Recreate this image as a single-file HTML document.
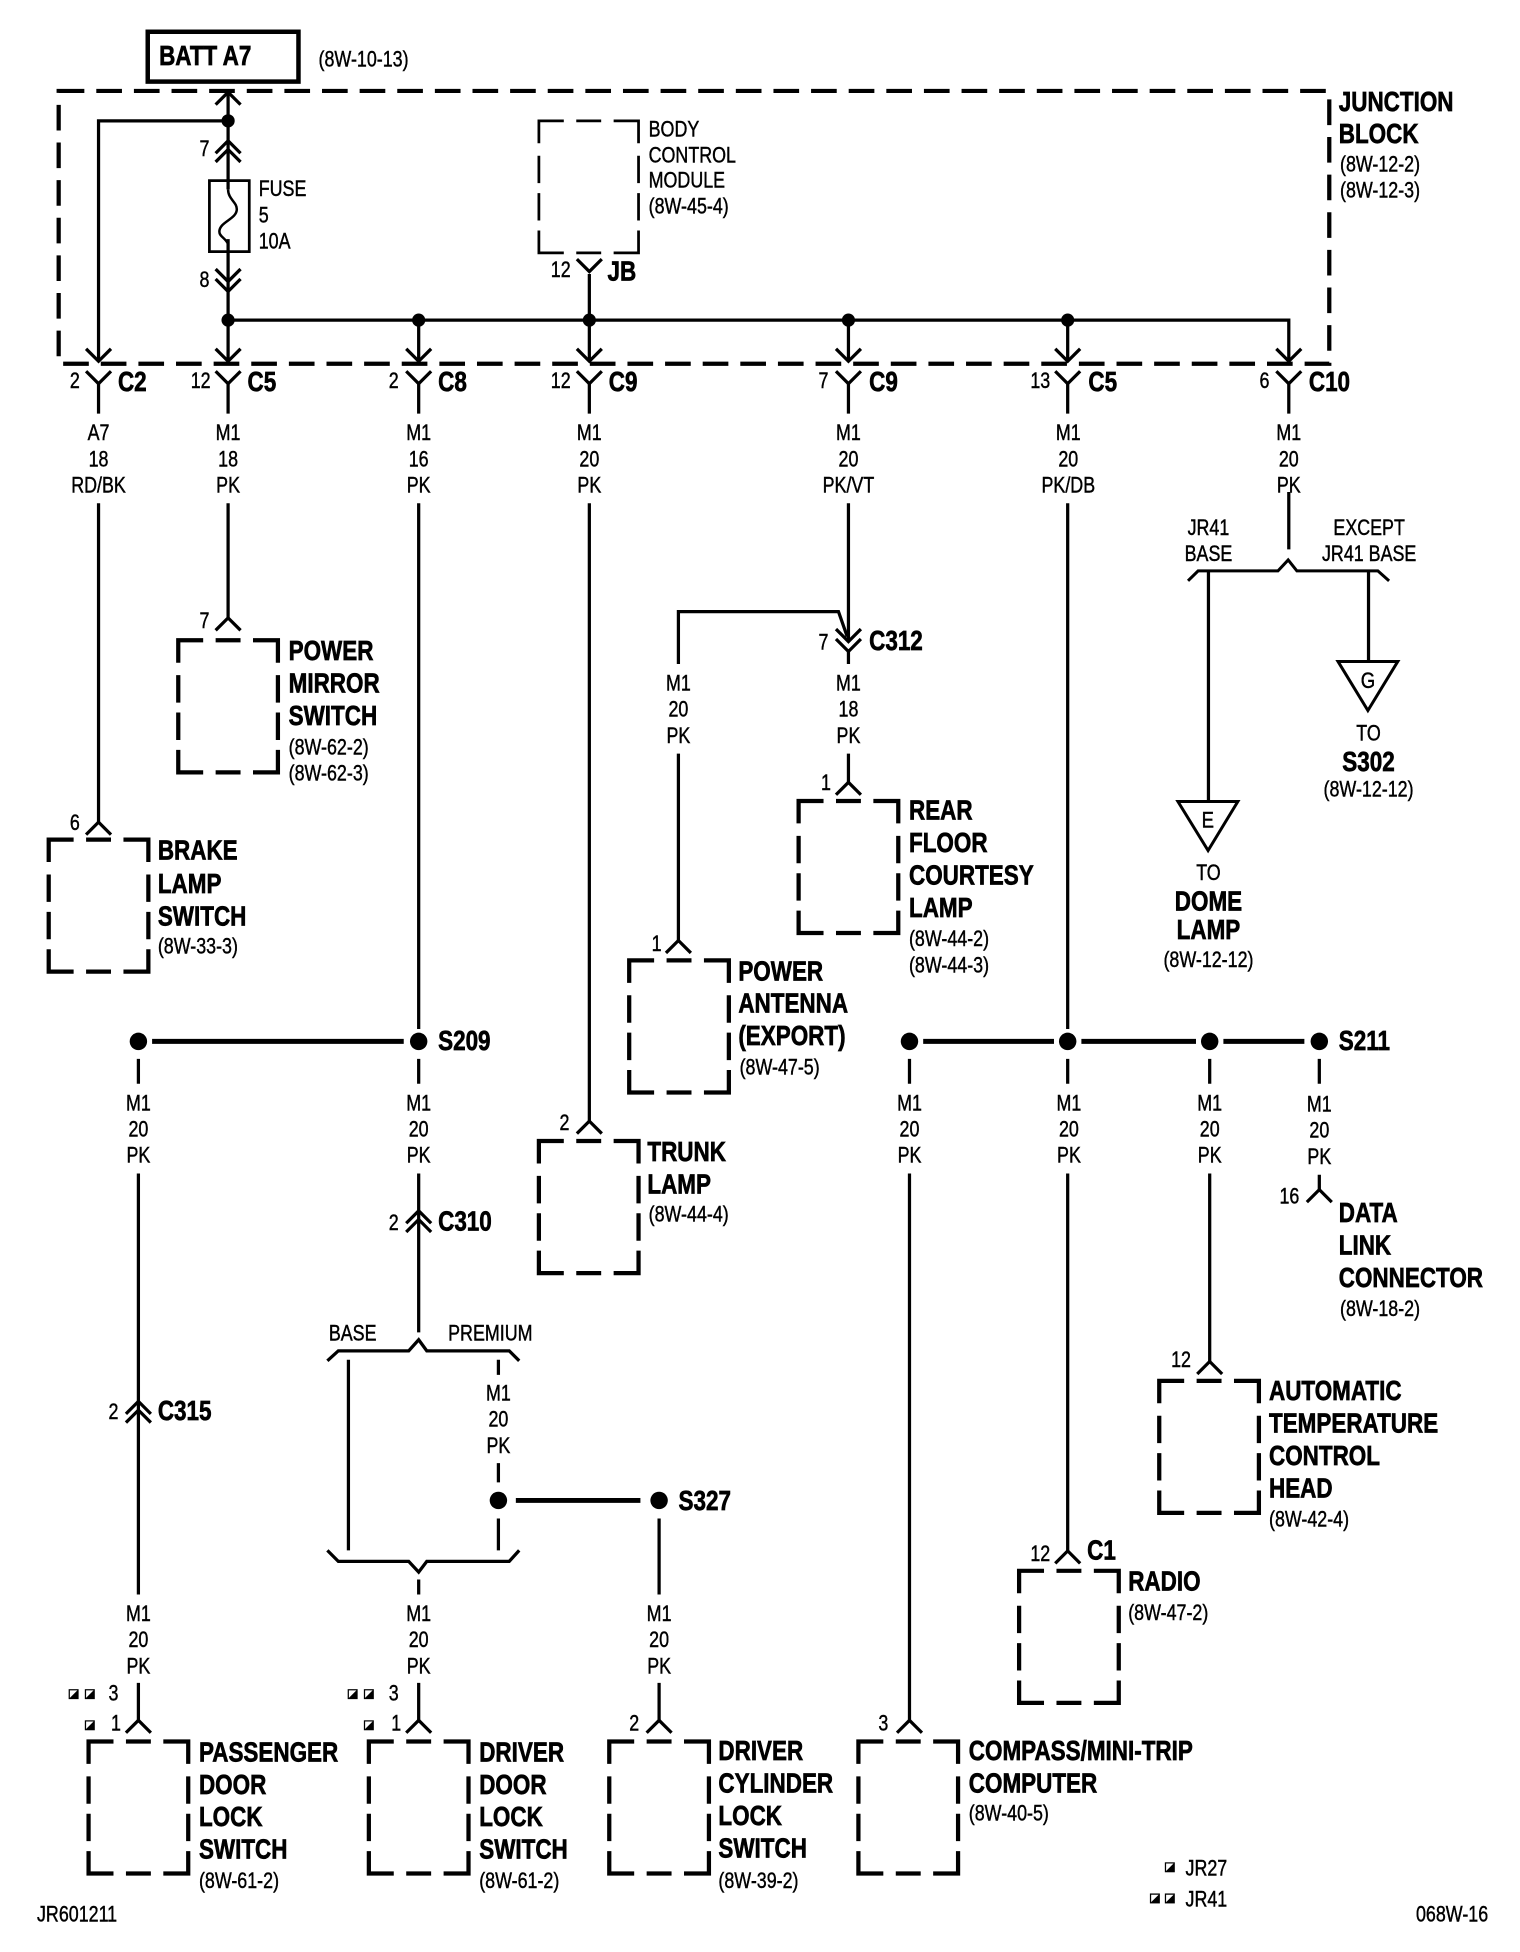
<!DOCTYPE html>
<html>
<head>
<meta charset="utf-8">
<style>
html,body{margin:0;padding:0;background:#fff;}
svg{display:block;width:1520px;height:1952px;}
text{font-family:"Liberation Sans",sans-serif;fill:#000;}
.s text{font-size:17.5px;stroke:#000;stroke-width:.35;}
.b text{font-size:22.4px;font-weight:bold;stroke:#000;stroke-width:.55;}
.m text{text-anchor:middle;}
.e text{text-anchor:end;}
</style>
</head>
<body>
<svg xmlns="http://www.w3.org/2000/svg" viewBox="0 0 1220 1567">
<defs>
<path id="cd" d="M-10,-10 L0,0 L10,-10"/>
<path id="cu" d="M-10,10 L0,0 L10,10"/>
<path id="box" d="M0,18V0H20M30,0H50M60,0H80V18M0,28V50M0,58V80M0,88V106H20M30,106H50M60,106H80V88M80,58V80M80,28V50"/>
<g id="sq"><rect x="0" y="0" width="8" height="8" fill="#000"/><polygon points="1,1 7,1 1,7" fill="#fff"/></g>
</defs>
<rect width="1220" height="1567" fill="#fff"/>

<!-- junction block -->
<path d="M47,73H1067V292H47Z" fill="none" stroke="#000" stroke-width="3.4" stroke-dasharray="20.6 9.6"/>
<rect x="118.5" y="25.5" width="121" height="40" fill="none" stroke="#000" stroke-width="3.6"/>

<!-- dashed boxes -->
<g fill="none" stroke="#000" stroke-width="3.4">
<use href="#box" x="143" y="514"/>
<use href="#box" x="39" y="674"/>
<use href="#box" x="641" y="643"/>
<use href="#box" x="505" y="771"/>
<use href="#box" x="432.5" y="916"/>
<use href="#box" x="930.5" y="1108.5"/>
<use href="#box" x="818" y="1261"/>
<use href="#box" x="71" y="1398"/>
<use href="#box" x="296" y="1398"/>
<use href="#box" x="489" y="1398"/>
<use href="#box" x="689" y="1398"/>
</g>
<g fill="none" stroke="#000" stroke-width="2.2"><use href="#box" x="432.5" y="97"/></g>

<!-- wires -->
<g fill="none" stroke="#000" stroke-width="2.6">
<path d="M183,74V152M183,192V290M183,97H79V290M183,257H1034.5V290M336,257V290M473,257V290M681,257V290M857,257V290M473,220V257"/>
<rect x="168" y="145" width="32" height="57" stroke-width="2.2"/>
<path d="M183,152C183,160 190,162 190,168C190,176 176,178 176,186C176,190 181,191 183,196" stroke-width="2"/>
<!-- chevrons in block -->
<use href="#cu" x="183" y="74"/><use href="#cu" x="183" y="113"/><use href="#cu" x="183" y="120"/>
<use href="#cd" x="183" y="226"/><use href="#cd" x="183" y="234"/>
<use href="#cd" x="79" y="290"/><use href="#cd" x="183" y="290"/><use href="#cd" x="336" y="290"/>
<use href="#cd" x="473" y="290"/><use href="#cd" x="681" y="290"/><use href="#cd" x="857" y="290"/><use href="#cd" x="1034.5" y="290"/>
<use href="#cd" x="473" y="218"/>
<!-- Y connectors -->
<use href="#cd" x="79" y="308"/><use href="#cd" x="183" y="308"/><use href="#cd" x="336" y="308"/>
<use href="#cd" x="473" y="308"/><use href="#cd" x="681" y="308"/><use href="#cd" x="857" y="308"/><use href="#cd" x="1034.5" y="308"/>
<path d="M79,308V332M183,308V332M336,308V332M473,308V332M681,308V332M857,308V332M1034.5,308V332"/>
<!-- vertical runs -->
<path d="M79,404V660M183,404V496M336,404V826M473,404V900M681,404V515M857,404V826M1034.5,395V441"/>
<use href="#cu" x="79" y="660"/><use href="#cu" x="183" y="496"/><use href="#cu" x="473" y="900"/>
<!-- C312 -->
<path d="M544.5,533V491H673L680,511"/>
<use href="#cd" x="681" y="515"/><use href="#cd" x="681" y="523"/>
<path d="M681,523V533M681,605V628M544.5,605V755"/>
<use href="#cu" x="681" y="628"/><use href="#cu" x="544.5" y="755"/>
<!-- right bracket -->
<path d="M953.6,466.3L961.7,458.3H1025.8L1034,449.5L1041,458.3H1106L1115,466.3" stroke-width="2.4"/>
<path d="M970,458.3V643M1098.5,458.3V531"/>
<path d="M945.5,643.4H993.6L969.7,682.8ZM1074,531H1122L1098,570.4Z" stroke-width="2.4"/>
<!-- S209 / lower left -->
<path d="M111,850V870M111,942V1280M111,1351V1381M336,850V870M336,942V1069.6"/>
<use href="#cu" x="111" y="1125"/><use href="#cu" x="111" y="1132"/>
<use href="#cu" x="336" y="972"/><use href="#cu" x="336" y="979"/>
<path d="M262.7,1092.4L271.5,1084.4H328L336,1075.5L342.5,1084.4H408.7L416.7,1092.4"/>
<path d="M262.7,1244.6L271.5,1253.4H328L336,1262L342.5,1253.4H408.7L416.7,1244.6"/>
<path d="M279.6,1091.6V1244.6M400,1091.6V1103.7M400,1174.5V1190M400,1219V1244.6M336,1268V1280M529,1219V1280M336,1351V1381M529,1351V1381"/>
<use href="#cu" x="111" y="1381"/><use href="#cu" x="336" y="1381"/><use href="#cu" x="529" y="1381"/>
<!-- S211 verticals -->
<path d="M730,850V870M730,942V1381M857,850V870M857,942V1245M971,850V870M971,942V1093M1059,850V870M1059,943V955"/>
<use href="#cu" x="730" y="1381"/><use href="#cu" x="857" y="1245"/><use href="#cu" x="971" y="1093"/><use href="#cu" x="1059" y="955"/>
</g>

<!-- thick lines -->
<path d="M122,836H324M741,836H846M868,836H960M982,836H1047M414,1204.5H514" stroke="#000" stroke-width="4" fill="none"/>

<!-- dots -->
<g fill="#000">
<circle cx="183" cy="97" r="5.3"/><circle cx="183" cy="257" r="5.3"/><circle cx="336" cy="257" r="5.3"/>
<circle cx="473" cy="257" r="5.3"/><circle cx="681" cy="257" r="5.3"/><circle cx="857" cy="257" r="5.3"/>
<circle cx="111" cy="836" r="7"/><circle cx="336" cy="836" r="7"/><circle cx="730" cy="836" r="7"/>
<circle cx="857" cy="836" r="7"/><circle cx="971" cy="836" r="7"/><circle cx="1059" cy="836" r="7"/>
<circle cx="400" cy="1204.5" r="7"/><circle cx="529" cy="1204.5" r="7"/>
</g>

<!-- squares -->
<use href="#sq" x="55" y="1356"/><use href="#sq" x="68" y="1356"/><use href="#sq" x="68" y="1381"/>
<use href="#sq" x="279" y="1356"/><use href="#sq" x="292" y="1356"/><use href="#sq" x="292" y="1381"/>
<use href="#sq" x="935" y="1495"/><use href="#sq" x="923" y="1520"/><use href="#sq" x="935" y="1520"/>

<!-- wire labels -->
<g class="s m" transform="translate(0,-.7)">
<g transform="translate(79) scale(.82 1)"><text y="354">A7</text><text y="375">18</text><text y="396">RD/BK</text></g>
<g transform="translate(183) scale(.82 1)"><text y="354">M1</text><text y="375">18</text><text y="396">PK</text></g>
<g transform="translate(336) scale(.82 1)"><text y="354">M1</text><text y="375">16</text><text y="396">PK</text></g>
<g transform="translate(473) scale(.82 1)"><text y="354">M1</text><text y="375">20</text><text y="396">PK</text></g>
<g transform="translate(681) scale(.82 1)"><text y="354">M1</text><text y="375">20</text><text y="396">PK/VT</text></g>
<g transform="translate(857.5) scale(.82 1)"><text y="354">M1</text><text y="375">20</text><text y="396">PK/DB</text></g>
<g transform="translate(1034.5) scale(.82 1)"><text y="354">M1</text><text y="375">20</text><text y="396">PK</text></g>
<g transform="translate(544.5) scale(.82 1)"><text y="555">M1</text><text y="576">20</text><text y="597">PK</text></g>
<g transform="translate(681) scale(.82 1)"><text y="555">M1</text><text y="576">18</text><text y="597">PK</text></g>
<g transform="translate(111) scale(.82 1)"><text y="892">M1</text><text y="913">20</text><text y="934">PK</text></g>
<g transform="translate(336) scale(.82 1)"><text y="892">M1</text><text y="913">20</text><text y="934">PK</text></g>
<g transform="translate(730) scale(.82 1)"><text y="892">M1</text><text y="913">20</text><text y="934">PK</text></g>
<g transform="translate(858) scale(.82 1)"><text y="892">M1</text><text y="913">20</text><text y="934">PK</text></g>
<g transform="translate(971) scale(.82 1)"><text y="892">M1</text><text y="913">20</text><text y="934">PK</text></g>
<g transform="translate(1059) scale(.82 1)"><text y="893">M1</text><text y="914">20</text><text y="935">PK</text></g>
<g transform="translate(400) scale(.82 1)"><text y="1125">M1</text><text y="1146">20</text><text y="1167">PK</text></g>
<g transform="translate(111) scale(.82 1)"><text y="1302">M1</text><text y="1323">20</text><text y="1344">PK</text></g>
<g transform="translate(336) scale(.82 1)"><text y="1302">M1</text><text y="1323">20</text><text y="1344">PK</text></g>
<g transform="translate(529) scale(.82 1)"><text y="1302">M1</text><text y="1323">20</text><text y="1344">PK</text></g>
<g transform="translate(283) scale(.82 1)"><text y="1077">BASE</text></g>
<g transform="translate(393.5) scale(.82 1)"><text y="1077">PREMIUM</text></g>
<g transform="translate(970) scale(.82 1)"><text y="430">JR41</text><text y="451">BASE</text></g>
<g transform="translate(1099) scale(.82 1)"><text y="430">EXCEPT</text><text y="451">JR41 BASE</text></g>
<g transform="translate(1098.5) scale(.82 1)"><text y="595">TO</text><text y="640">(8W-12-12)</text></g>
<g transform="translate(970) scale(.82 1)"><text y="707">TO</text><text y="777">(8W-12-12)</text></g>
<g transform="translate(1098) scale(.85 1)"><text y="553">G</text></g>
<g transform="translate(969.5) scale(.85 1)"><text y="665">E</text></g>
<!-- pin numbers -->
<g transform="translate(60) scale(.82 1)"><text y="312">2</text></g>
<g transform="translate(161) scale(.82 1)"><text y="312">12</text></g>
<g transform="translate(316) scale(.82 1)"><text y="312">2</text></g>
<g transform="translate(450) scale(.82 1)"><text y="312">12</text></g>
<g transform="translate(661) scale(.82 1)"><text y="312">7</text></g>
<g transform="translate(835) scale(.82 1)"><text y="312">13</text></g>
<g transform="translate(1015) scale(.82 1)"><text y="312">6</text></g>
<g transform="translate(164) scale(.82 1)"><text y="126">7</text></g>
<g transform="translate(164) scale(.82 1)"><text y="231">8</text></g>
<g transform="translate(450) scale(.82 1)"><text y="223">12</text></g>
<g transform="translate(164) scale(.82 1)"><text y="505">7</text></g>
<g transform="translate(60) scale(.82 1)"><text y="667">6</text></g>
<g transform="translate(661) scale(.82 1)"><text y="522">7</text></g>
<g transform="translate(663) scale(.82 1)"><text y="635">1</text></g>
<g transform="translate(527) scale(.82 1)"><text y="764">1</text></g>
<g transform="translate(453) scale(.82 1)"><text y="908">2</text></g>
<g transform="translate(316) scale(.82 1)"><text y="988">2</text></g>
<g transform="translate(91) scale(.82 1)"><text y="1140">2</text></g>
<g transform="translate(1035) scale(.82 1)"><text y="967">16</text></g>
<g transform="translate(948) scale(.82 1)"><text y="1098">12</text></g>
<g transform="translate(835) scale(.82 1)"><text y="1254">12</text></g>
<g transform="translate(91) scale(.82 1)"><text y="1366">3</text></g>
<g transform="translate(93) scale(.82 1)"><text y="1390">1</text></g>
<g transform="translate(316) scale(.82 1)"><text y="1366">3</text></g>
<g transform="translate(318) scale(.82 1)"><text y="1390">1</text></g>
<g transform="translate(509) scale(.82 1)"><text y="1390">2</text></g>
<g transform="translate(709) scale(.82 1)"><text y="1390">3</text></g>
</g>

<!-- small left-aligned text -->
<g class="s" transform="translate(-.4,-.5)">
<g transform="translate(256) scale(.82 1)"><text y="54">(8W-10-13)</text></g>
<g transform="translate(208) scale(.82 1)"><text y="158">FUSE</text><text y="179">5</text><text y="200">10A</text></g>
<g transform="translate(521) scale(.82 1)"><text y="110">BODY</text><text y="131">CONTROL</text><text y="151">MODULE</text><text y="172">(8W-45-4)</text></g>
<g transform="translate(1076) scale(.82 1)"><text y="138">(8W-12-2)</text><text y="159">(8W-12-3)</text></g>
<g transform="translate(232) scale(.82 1)"><text y="606">(8W-62-2)</text><text y="627">(8W-62-3)</text></g>
<g transform="translate(127) scale(.82 1)"><text y="766">(8W-33-3)</text></g>
<g transform="translate(730) scale(.82 1)"><text y="760">(8W-44-2)</text><text y="781">(8W-44-3)</text></g>
<g transform="translate(594) scale(.82 1)"><text y="863">(8W-47-5)</text></g>
<g transform="translate(521) scale(.82 1)"><text y="981">(8W-44-4)</text></g>
<g transform="translate(1019) scale(.82 1)"><text y="1226">(8W-42-4)</text></g>
<g transform="translate(906) scale(.82 1)"><text y="1301">(8W-47-2)</text></g>
<g transform="translate(1076) scale(.82 1)"><text y="1057">(8W-18-2)</text></g>
<g transform="translate(160) scale(.82 1)"><text y="1516">(8W-61-2)</text></g>
<g transform="translate(385) scale(.82 1)"><text y="1516">(8W-61-2)</text></g>
<g transform="translate(577) scale(.82 1)"><text y="1516">(8W-39-2)</text></g>
<g transform="translate(778) scale(.82 1)"><text y="1462">(8W-40-5)</text></g>
<g transform="translate(952) scale(.82 1)"><text y="1506">JR27</text><text y="1531">JR41</text></g>
<g transform="translate(30) scale(.82 1)"><text y="1543">JR601211</text></g>
<g transform="translate(1137) scale(.82 1)"><text y="1543">068W-16</text></g>
</g>

<!-- bold labels -->
<g class="b" transform="translate(-.4,-1)">
<g transform="translate(128) scale(.805 1)"><text y="53">BATT A7</text></g>
<g transform="translate(1075) scale(.805 1)"><text y="90">JUNCTION</text><text y="116">BLOCK</text></g>
<g transform="translate(488) scale(.805 1)"><text y="226">JB</text></g>
<g transform="translate(95) scale(.805 1)"><text y="315">C2</text></g>
<g transform="translate(199) scale(.805 1)"><text y="315">C5</text></g>
<g transform="translate(352) scale(.805 1)"><text y="315">C8</text></g>
<g transform="translate(489) scale(.805 1)"><text y="315">C9</text></g>
<g transform="translate(698) scale(.805 1)"><text y="315">C9</text></g>
<g transform="translate(874) scale(.805 1)"><text y="315">C5</text></g>
<g transform="translate(1051) scale(.805 1)"><text y="315">C10</text></g>
<g transform="translate(698) scale(.805 1)"><text y="523">C312</text></g>
<g transform="translate(232) scale(.805 1)"><text y="531">POWER</text><text y="557">MIRROR</text><text y="583">SWITCH</text></g>
<g transform="translate(127) scale(.805 1)"><text y="691">BRAKE</text><text y="718">LAMP</text><text y="744">SWITCH</text></g>
<g transform="translate(730) scale(.805 1)"><text y="659">REAR</text><text y="685">FLOOR</text><text y="711">COURTESY</text><text y="737">LAMP</text></g>
<g transform="translate(593) scale(.805 1)"><text y="788">POWER</text><text y="814">ANTENNA</text><text y="840">(EXPORT)</text></g>
<g transform="translate(520) scale(.805 1)"><text y="933">TRUNK</text><text y="959">LAMP</text></g>
<g transform="translate(352) scale(.805 1)"><text y="844">S209</text></g>
<g transform="translate(1075) scale(.805 1)"><text y="844">S211</text></g>
<g transform="translate(352) scale(.805 1)"><text y="989">C310</text></g>
<g transform="translate(127) scale(.805 1)"><text y="1141">C315</text></g>
<g transform="translate(545) scale(.805 1)"><text y="1213">S327</text></g>
<g transform="translate(873) scale(.805 1)"><text y="1253">C1</text></g>
<g transform="translate(906) scale(.805 1)"><text y="1278">RADIO</text></g>
<g transform="translate(1075) scale(.805 1)"><text y="982">DATA</text><text y="1008">LINK</text><text y="1034">CONNECTOR</text></g>
<g transform="translate(1019) scale(.805 1)"><text y="1125">AUTOMATIC</text><text y="1151">TEMPERATURE</text><text y="1177">CONTROL</text><text y="1203">HEAD</text></g>
<g transform="translate(160) scale(.805 1)"><text y="1415">PASSENGER</text><text y="1441">DOOR</text><text y="1467">LOCK</text><text y="1493">SWITCH</text></g>
<g transform="translate(385) scale(.805 1)"><text y="1415">DRIVER</text><text y="1441">DOOR</text><text y="1467">LOCK</text><text y="1493">SWITCH</text></g>
<g transform="translate(577) scale(.805 1)"><text y="1414">DRIVER</text><text y="1440">CYLINDER</text><text y="1466">LOCK</text><text y="1492">SWITCH</text></g>
<g transform="translate(778) scale(.805 1)"><text y="1414">COMPASS/MINI-TRIP</text><text y="1440">COMPUTER</text></g>
</g>
<g class="b m" transform="translate(0,-1)">
<g transform="translate(1098.5) scale(.805 1)"><text y="620">S302</text></g>
<g transform="translate(970) scale(.805 1)"><text y="732">DOME</text><text y="755">LAMP</text></g>
</g>
</svg>
</body>
</html>
